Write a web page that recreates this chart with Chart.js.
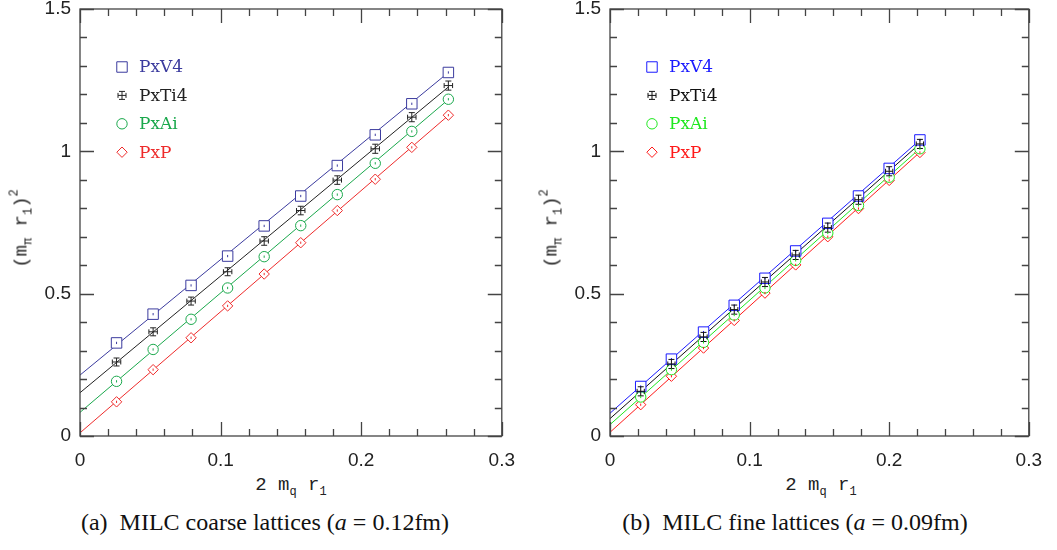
<!DOCTYPE html>
<html>
<head>
<meta charset="utf-8">
<script src="https://cdn.jsdelivr.net/npm/chart.js@4.4.1/dist/chart.umd.min.js"></script>
<style>
  body { margin: 0; background: #fff; width: 1057px; height: 550px; position: relative; overflow: hidden; }
  .panel { position: absolute; top: 0; height: 470px; }
  .xtitle, .ytitle { position: absolute; font-family: "Liberation Mono", monospace; font-size: 19px; color: #222; white-space: pre; line-height: 19px; }
  .xtitle { top: 476px; width: 300px; text-align: center; }
  .ytitle { top: 212px; width: 120px; text-align: center; transform: rotate(-90deg); transform-origin: center; }
  .xtitle sub, .ytitle sub { font-size: 12px; vertical-align: -5px; }
  .ytitle sup { font-size: 12px; vertical-align: 9px; }
  .caption { position: absolute; top: 510px; width: 530px; text-align: center; font-family: "Liberation Serif", serif; font-size: 24px; line-height: 24px; color: #111; white-space: pre; }
</style>
</head>
<body>
<div class="panel" style="left:0; width:530px"><canvas id="coarseChart" width="530" height="470"></canvas></div>
<div class="panel" style="left:530px; width:527px"><canvas id="fineChart" width="527" height="470"></canvas></div>

<div class="xtitle" style="left:141px">2 m<sub>q</sub> r<sub>1</sub></div>
<div class="xtitle" style="left:671px">2 m<sub>q</sub> r<sub>1</sub></div>
<div class="ytitle" style="left:-38px">(m<sub>π</sub> r<sub>1</sub>)<sup>2</sup></div>
<div class="ytitle" style="left:492px">(m<sub>π</sub> r<sub>1</sub>)<sup>2</sup></div>

<div class="caption" style="left:0">(a)  MILC coarse lattices (<i>a</i> = 0.12fm)</div>
<div class="caption" style="left:530px">(b)  MILC fine lattices (<i>a</i> = 0.09fm)</div>

<script>
// ---- data ----
const seriesNames = ['PxV4', 'PxTi4', 'PxAi', 'PxP'];

// (a) coarse lattices
const coarseMass  = [0.026, 0.052, 0.079, 0.105, 0.131, 0.157, 0.183, 0.210, 0.236, 0.262];
const coarsePxV4  = [0.327, 0.428, 0.529, 0.632, 0.738, 0.843, 0.950, 1.058, 1.167, 1.277];
const coarsePxTi4 = [0.260, 0.366, 0.474, 0.577, 0.685, 0.792, 0.899, 1.009, 1.120, 1.231];
const coarsePxAi  = [0.192, 0.304, 0.410, 0.520, 0.630, 0.739, 0.848, 0.958, 1.070, 1.183];
const coarsePxP   = [0.120, 0.233, 0.345, 0.457, 0.569, 0.679, 0.792, 0.902, 1.014, 1.127];
const coarseTi4YErr = [0.014, 0.014, 0.014, 0.014, 0.015, 0.015, 0.015, 0.016, 0.016, 0.016];
const coarseTi4XErr = [0.003, 0.003, 0.003, 0.003, 0.003, 0.003, 0.003, 0.003, 0.003, 0.003];
const coarseSmallErr = [0.004, 0.004, 0.004, 0.004, 0.004, 0.004, 0.004, 0.004, 0.004, 0.004];
const coarseFitX   = [0, 0.262];
const coarseFitV4  = [0.214, 1.277];
const coarseFitTi4 = [0.152, 1.226];
const coarseFitAi  = [0.083, 1.182];
const coarseFitP   = [0.011, 1.126];

// (b) fine lattices
const fineMass  = [0.022, 0.044, 0.067, 0.089, 0.111, 0.133, 0.156, 0.178, 0.200, 0.222];
const finePxV4  = [0.174, 0.270, 0.365, 0.459, 0.554, 0.650, 0.747, 0.843, 0.940, 1.040];
const finePxTi4 = [0.157, 0.253, 0.348, 0.444, 0.541, 0.636, 0.732, 0.830, 0.930, 1.026];
const finePxAi  = [0.137, 0.233, 0.329, 0.425, 0.520, 0.617, 0.713, 0.810, 0.909, 1.009];
const finePxP   = [0.110, 0.210, 0.309, 0.406, 0.502, 0.601, 0.700, 0.799, 0.898, 0.996];
const fineTi4YErr = [0.016, 0.016, 0.016, 0.016, 0.016, 0.016, 0.016, 0.016, 0.016, 0.016];
const fineTi4XErr = [0.0026, 0.0026, 0.0026, 0.0026, 0.0026, 0.0026, 0.0026, 0.0026, 0.0026, 0.0026];
const fineSmallErr = [0.004, 0.004, 0.004, 0.004, 0.004, 0.004, 0.004, 0.004, 0.004, 0.004];
const fineFitX   = [0, 0.222];
const fineFitV4  = [0.080, 1.040];
const fineFitTi4 = [0.061, 1.027];
const fineFitAi  = [0.040, 1.010];
const fineFitP   = [0.013, 0.997];

// axes
const xMajorTicks = [0, 0.1, 0.2, 0.3];
const xTickLabels = ['0', '0.1', '0.2', '0.3'];
const xMinorTicks = [0.02, 0.04, 0.06, 0.08, 0.12, 0.14, 0.16, 0.18, 0.22, 0.24, 0.26, 0.28];
const yMajorTicks = [0, 0.5, 1, 1.5];
const yTickLabels = ['0', '0.5', '1', '1.5'];
const yMinorTicks = [0.1, 0.2, 0.3, 0.4, 0.6, 0.7, 0.8, 0.9, 1.1, 1.2, 1.3, 1.4];

// ---- styles ----
const coarseColors = ['#3b3b9e', '#222222', '#1aa84c', '#ee2b2b'];
const fineColors   = ['#1a1aff', '#111111', '#1fe81f', '#ff1a1a'];
const markerStyles = ['rect', 'cross', 'circle', 'rectRot'];
const markerRadius = [7.4, 0, 5.2, 5.2];

function points(xs, ys, yErr, xErr) {
  return xs.map((x, i) => ({ x: x, y: ys[i], yErr: yErr ? yErr[i] : 0, xErr: xErr ? xErr[i] : 0 }));
}

function buildDatasets(mass, series, errs, fitX, fits, colors) {
  const sets = series.map((ys, i) => ({
    label: seriesNames[i],
    data: points(mass, ys, errs[i].y, errs[i].x),
    showLine: false,
    pointStyle: markerStyles[i],
    pointRadius: markerRadius[i],
    pointBorderWidth: 1,
    borderColor: colors[i],
    backgroundColor: '#ffffff',
    errorCaps: i === 1
  }));
  fits.forEach((ys, i) => {
    sets.push({
      label: seriesNames[i] + ' fit',
      data: points(fitX, ys),
      showLine: true,
      pointRadius: 0,
      borderWidth: 1,
      borderColor: colors[i],
      fill: false,
      isFit: true
    });
  });
  return sets;
}

// inward ticks on all four sides plus the frame
const framePlugin = {
  id: 'frame',
  afterDatasetsDraw(chart) {
    const { ctx, chartArea: a, scales: { x, y } } = chart;
    ctx.save();
    ctx.strokeStyle = '#444';
    ctx.lineWidth = 1.3;
    ctx.beginPath();
    const tickX = (v, len) => {
      const px = Math.round(x.getPixelForValue(v)) + 0.5;
      ctx.moveTo(px, a.bottom); ctx.lineTo(px, a.bottom - len);
      ctx.moveTo(px, a.top); ctx.lineTo(px, a.top + len);
    };
    const tickY = (v, len) => {
      const py = Math.round(y.getPixelForValue(v)) + 0.5;
      ctx.moveTo(a.left, py); ctx.lineTo(a.left + len, py);
      ctx.moveTo(a.right, py); ctx.lineTo(a.right - len, py);
    };
    xMajorTicks.forEach(v => tickX(v, 14));
    xMinorTicks.forEach(v => tickX(v, 7));
    yMajorTicks.forEach(v => tickY(v, 14));
    yMinorTicks.forEach(v => tickY(v, 7));
    ctx.stroke();
    ctx.strokeRect(a.left, a.top, a.width, a.height);
    ctx.restore();
  }
};

// error bars (PxTi4 gets caps on both arms)
const errorBarPlugin = {
  id: 'errorBars',
  afterDatasetsDraw(chart) {
    const { ctx, scales: { x, y } } = chart;
    ctx.save();
    ctx.lineWidth = 1;
    chart.data.datasets.forEach(ds => {
      if (ds.isFit) return;
      ctx.strokeStyle = ds.borderColor;
      ctx.beginPath();
      ds.data.forEach(p => {
        const px = x.getPixelForValue(p.x), py = y.getPixelForValue(p.y);
        const top = y.getPixelForValue(p.y + p.yErr), bot = y.getPixelForValue(p.y - p.yErr);
        ctx.moveTo(px, top); ctx.lineTo(px, bot);
        if (ds.errorCaps) {
          const l = x.getPixelForValue(p.x - p.xErr), r = x.getPixelForValue(p.x + p.xErr);
          ctx.moveTo(px - 3, top); ctx.lineTo(px + 3, top);
          ctx.moveTo(px - 3, bot); ctx.lineTo(px + 3, bot);
          ctx.moveTo(l, py); ctx.lineTo(r, py);
          ctx.moveTo(l, py - 2.5); ctx.lineTo(l, py + 2.5);
          ctx.moveTo(r, py - 2.5); ctx.lineTo(r, py + 2.5);
        }
      });
      ctx.stroke();
    });
    ctx.restore();
  }
};

// legend drawn inside the plot, top-left
const innerLegendPlugin = {
  id: 'innerLegend',
  afterDraw(chart) {
    const { ctx, chartArea: a } = chart;
    ctx.save();
    ctx.font = '17px "DejaVu Serif", serif';
    ctx.textBaseline = 'middle';
    chart.data.datasets.filter(ds => !ds.isFit).forEach((ds, i) => {
      const sx = a.left + 42, sy = a.top + 58 + i * 28.4;
      ctx.strokeStyle = ds.borderColor;
      ctx.fillStyle = '#fff';
      ctx.lineWidth = 1;
      if (ds.errorCaps) {
        ctx.beginPath();
        ctx.moveTo(sx, sy - 4); ctx.lineTo(sx, sy + 4);
        ctx.moveTo(sx - 3, sy - 4); ctx.lineTo(sx + 3, sy - 4);
        ctx.moveTo(sx - 3, sy + 4); ctx.lineTo(sx + 3, sy + 4);
        ctx.moveTo(sx - 4, sy); ctx.lineTo(sx + 4, sy);
        ctx.moveTo(sx - 4, sy - 2.5); ctx.lineTo(sx - 4, sy + 2.5);
        ctx.moveTo(sx + 4, sy - 2.5); ctx.lineTo(sx + 4, sy + 2.5);
        ctx.stroke();
      } else {
        Chart.helpers.drawPoint(ctx, { pointStyle: ds.pointStyle, radius: ds.pointRadius, borderWidth: 1, rotation: 0 }, sx, sy);
      }
      ctx.fillStyle = ds.borderColor;
      ctx.fillText(ds.label, a.left + 59, sy + 1);
    });
    ctx.restore();
  }
};

function makeChart(canvasId, datasets, rightPad) {
  const ctx = document.getElementById(canvasId).getContext('2d');
  return new Chart(ctx, {
    type: 'scatter',
    data: { datasets: datasets },
    plugins: [framePlugin, errorBarPlugin, innerLegendPlugin],
    options: {
      responsive: false,
      animation: false,
      devicePixelRatio: 1,
      layout: { padding: { left: 0, right: rightPad, top: 0, bottom: 0 } },
      plugins: { legend: { display: false }, tooltip: { enabled: false } },
      scales: {
        x: {
          type: 'linear', min: 0, max: 0.3,
          grid: { display: false, drawTicks: false },
          border: { display: false },
          afterBuildTicks: s => { s.ticks = xMajorTicks.map(v => ({ value: v })); },
          afterFit: s => { s.height = 34; },
          ticks: {
            padding: 15,
            color: '#222',
            font: { family: '"Liberation Sans", sans-serif', size: 19, lineHeight: 1 },
            maxRotation: 0,
            callback: (v, i) => xTickLabels[i]
          }
        },
        y: {
          type: 'linear', min: 0, max: 1.5,
          grid: { display: false, drawTicks: false },
          border: { display: false },
          afterBuildTicks: s => { s.ticks = yMajorTicks.map(v => ({ value: v })); },
          afterFit: s => { s.width = 80; s.paddingTop = 9; s.paddingBottom = 0; },
          ticks: {
            padding: 9,
            color: '#222',
            font: { family: '"Liberation Sans", sans-serif', size: 19, lineHeight: 1 },
            callback: (v, i) => yTickLabels[i]
          }
        }
      }
    }
  });
}

makeChart('coarseChart', buildDatasets(
  coarseMass,
  [coarsePxV4, coarsePxTi4, coarsePxAi, coarsePxP],
  [{ y: coarseSmallErr }, { y: coarseTi4YErr, x: coarseTi4XErr }, { y: coarseSmallErr }, { y: coarseSmallErr }],
  coarseFitX,
  [coarseFitV4, coarseFitTi4, coarseFitAi, coarseFitP],
  coarseColors
), 28);

makeChart('fineChart', buildDatasets(
  fineMass,
  [finePxV4, finePxTi4, finePxAi, finePxP],
  [{ y: fineSmallErr }, { y: fineTi4YErr, x: fineTi4XErr }, { y: fineSmallErr }, { y: fineSmallErr }],
  fineFitX,
  [fineFitV4, fineFitTi4, fineFitAi, fineFitP],
  fineColors
), 24);
</script>
</body>
</html>
